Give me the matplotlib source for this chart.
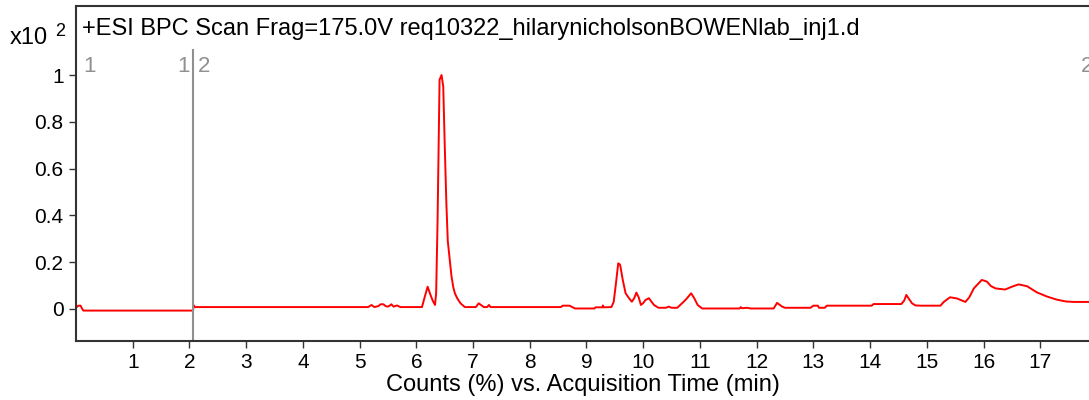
import numpy as np
import matplotlib
matplotlib.use('Agg')
import matplotlib.pyplot as plt
import matplotlib.transforms as mtransforms

plt.rcParams['font.family'] = ['Liberation Sans', 'DejaVu Sans']

# acquisition time (min) and counts (x10^2 %)
times = [0.00, 0.04, 0.08, 0.11, 0.13, 2.065, 2.07, 2.08, 2.09,
         5.15, 5.21, 5.26, 5.33, 5.37, 5.42, 5.46, 5.50, 5.53, 5.56, 5.60, 5.66, 5.72,
         6.10, 6.15, 6.20, 6.25, 6.29, 6.33, 6.35, 6.375, 6.41, 6.445, 6.475, 6.50,
         6.53, 6.555, 6.59, 6.62, 6.65, 6.68, 6.72, 6.78, 6.855,
         7.05, 7.10, 7.15, 7.19, 7.25, 7.28, 7.31,
         8.55, 8.58, 8.70, 8.75, 8.80, 9.14, 9.16, 9.28, 9.29, 9.30,
         9.44, 9.48, 9.52, 9.56, 9.59, 9.60, 9.64, 9.69, 9.75, 9.80, 9.84, 9.88,
         9.92, 9.96, 10.00, 10.04, 10.10, 10.15, 10.19, 10.27, 10.40, 10.45, 10.50,
         10.60, 10.71, 10.77, 10.845, 10.90, 10.96, 11.04,
         11.70, 11.72, 11.74, 11.83, 11.90, 12.30, 12.36, 12.45, 12.50, 12.95,
         13.00, 13.08, 13.10, 13.20, 13.24, 14.03, 14.06, 14.55, 14.60, 14.64,
         14.68, 14.74, 14.80, 14.90, 15.24, 15.30, 15.41, 15.53, 15.68, 15.75,
         15.83, 15.97, 16.06, 16.13, 16.21, 16.38, 16.50, 16.62, 16.77, 16.94,
         17.12, 17.29, 17.45, 17.59, 17.86]
counts = [0.005, 0.014, 0.014, 0.0, -0.007, -0.007, 0.012, 0.015, 0.008,
          0.008, 0.017, 0.008, 0.012, 0.020, 0.020, 0.012, 0.010, 0.014, 0.020, 0.010, 0.015, 0.008,
          0.008, 0.053, 0.095, 0.060, 0.035, 0.017, 0.070, 0.38, 0.98, 1.0, 0.95, 0.71,
          0.45, 0.29, 0.21, 0.14, 0.095, 0.067, 0.046, 0.024, 0.008,
          0.008, 0.024, 0.015, 0.008, 0.008, 0.017, 0.008,
          0.008, 0.014, 0.014, 0.008, 0.002, 0.002, 0.007, 0.007, 0.015, 0.007,
          0.008, 0.03, 0.11, 0.195, 0.19, 0.18, 0.124, 0.067, 0.046, 0.031, 0.045, 0.07,
          0.05, 0.017, 0.025, 0.038, 0.046, 0.03, 0.017, 0.005, 0.005, 0.01, 0.005,
          0.005, 0.03, 0.045, 0.067, 0.046, 0.017, 0.002,
          0.002, 0.008, 0.003, 0.005, 0.002, 0.002, 0.026, 0.01, 0.005, 0.005,
          0.014, 0.014, 0.005, 0.005, 0.014, 0.014, 0.021, 0.021, 0.035, 0.06,
          0.045, 0.024, 0.015, 0.014, 0.014, 0.03, 0.05, 0.045, 0.03, 0.05,
          0.088, 0.124, 0.117, 0.098, 0.088, 0.083, 0.095, 0.105, 0.097, 0.071,
          0.053, 0.04, 0.032, 0.03, 0.03]

xticks = list(range(1, 18))
yticks = [0, 0.2, 0.4, 0.6, 0.8, 1]
ytick_labels = ['0', '0.2', '0.4', '0.6', '0.8', '1']

# segment markers: (time, label, alignment)
markers = [(0.12, '1', 'left'), (2.0, '1', 'right'), (2.14, '2', 'left'), (17.72, '2', 'left')]
divider_time = 2.07

title = '+ESI BPC Scan Frag=175.0V req10322_hilarynicholsonBOWENlab_inj1.d'

fig = plt.figure(figsize=(10.89, 4), dpi=100)
ax = fig.add_axes([76/1089, 59/400, 1 - 76/1089, 335/400])

ax.plot(times, counts, color='#ff0000', lw=1.4)

ax.set_xlim(0, 17.86)
ax.set_ylim(-0.137, 1.295)

ax.axvline(divider_time, ymin=0, ymax=0.869, color='#909090', lw=1.5)

trans = mtransforms.blended_transform_factory(ax.transData, ax.transAxes)
for t, lab, ha in markers:
    ax.text(t, 0.818, lab, transform=trans, color='#909090', fontsize=16,
            ha=ha, va='center', clip_on=False)

ax.set_xticks(xticks)
ax.set_yticks(yticks)
ax.set_yticklabels(ytick_labels)
ax.tick_params(axis='both', direction='out', labelsize=15, length=5, width=1, color='#333333')
ax.tick_params(axis='x', pad=4)
ax.tick_params(axis='y', pad=4)

for s in ['left', 'bottom', 'top']:
    ax.spines[s].set_color('#333333')
    ax.spines[s].set_linewidth(1.5)
ax.spines['right'].set_visible(False)

ax.set_xlabel('Counts (%) vs. Acquisition Time (min)', fontsize=17, labelpad=1)

fig.text(82/1089, 1 - 29/400, title, fontsize=17, ha='left', va='center')
fig.text(10/1089, 1 - 38/400, 'x10', fontsize=17, ha='left', va='center')
fig.text(55/1089, 1 - 31/400, '2', fontsize=13, ha='left', va='center')

plt.savefig('out.png', dpi=100)
plt.close()
